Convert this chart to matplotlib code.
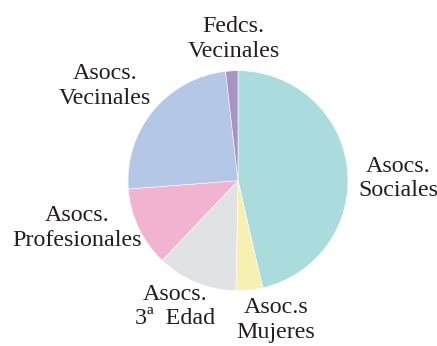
import matplotlib
matplotlib.use("Agg")
import matplotlib.pyplot as plt

# Reparto de asociaciones por tipo (%)
categories = ["Asocs.\nSociales", "Asoc.s\nMujeres", "Asocs.\n3ª  Edad",
              "Asocs.\nProfesionales", "Asocs.\nVecinales", "Fedcs.\nVecinales"]
values = [46.4, 3.9, 11.8, 11.7, 24.4, 1.8]
colors = ["#abdcdd", "#f6f1b2", "#e1e2e4", "#f1b3cf", "#b4c7e7", "#a993c4"]

# label anchor positions in pie-radius units
label_pos = [(1.455, 0.02), (0.345, -1.265), (-0.57, -1.145),
             (-1.46, -0.43), (-1.21, 0.86), (-0.04, 1.29)]

W, H = 437, 346
fig = plt.figure(figsize=(W / 100, H / 100), dpi=100)
cx, cy, r = 238, 180.7, 110
ax = fig.add_axes([(cx - r) / W, (H - cy - r) / H, 2 * r / W, 2 * r / H])
ax.pie(values, colors=colors, startangle=90, counterclock=False, radius=1,
       wedgeprops=dict(linewidth=0.4, edgecolor="white"))
ax.set_xlim(-1, 1)
ax.set_ylim(-1, 1)
ax.set_aspect("equal")
ax.axis("off")

for text, (x, y) in zip(categories, label_pos):
    ax.text(x, y, text, ha="center", va="center", multialignment="center",
            fontsize=17.3, family="Liberation Serif", color="#231f20",
            linespacing=1.22, clip_on=False)

fig.savefig("out.png", dpi=100)
